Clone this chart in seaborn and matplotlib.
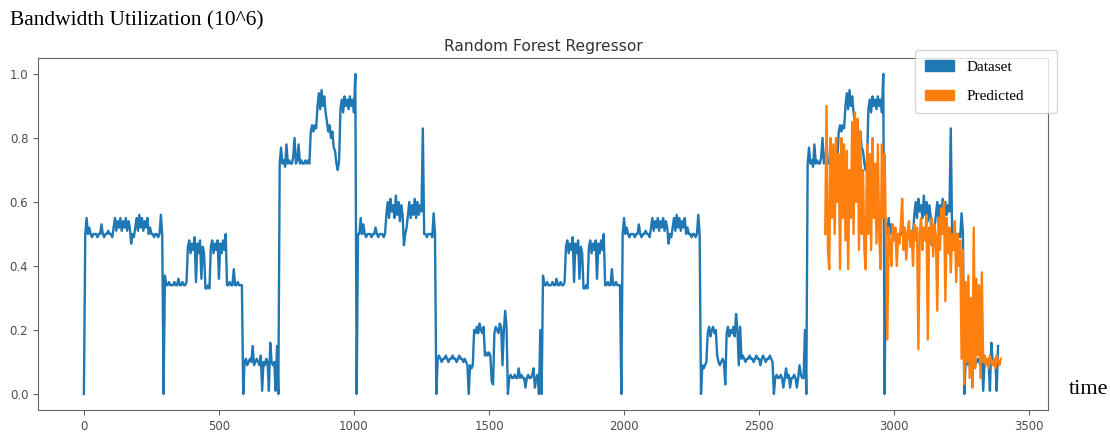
import numpy as np
import pandas as pd
import matplotlib
matplotlib.use("Agg")
import matplotlib.pyplot as plt
import matplotlib.patches as mpatches
import seaborn as sns

# =============================================================================
# DATA (one sample every 5 time units)
# =============================================================================
STEP = 5

# ~0.5 level with two small bumps
seg_a_low = [0.00, 0.50, 0.55, 0.50, 0.52, 0.50, 0.49, 0.50, 0.50, 0.50,
             0.49, 0.50, 0.50, 0.53, 0.50, 0.49, 0.50, 0.50, 0.51, 0.50,
             0.50, 0.49, 0.52, 0.55, 0.51, 0.54, 0.52, 0.55, 0.51, 0.54,
             0.52, 0.55, 0.51, 0.54, 0.52, 0.47, 0.50, 0.49, 0.52, 0.55,
             0.51, 0.56, 0.52, 0.55, 0.51, 0.54, 0.52, 0.55, 0.50, 0.52,
             0.50, 0.50, 0.49, 0.50, 0.50, 0.49, 0.50, 0.56, 0.50]
# ~0.5 level with higher bumps and the 0.83 spike
seg_a_high = [0.00, 0.50, 0.50, 0.55, 0.50, 0.53, 0.50, 0.49, 0.50, 0.50,
              0.50, 0.49, 0.50, 0.50, 0.52, 0.50, 0.49, 0.50, 0.50, 0.50,
              0.49, 0.50, 0.56, 0.60, 0.55, 0.61, 0.57, 0.59, 0.55, 0.62,
              0.56, 0.60, 0.54, 0.59, 0.56, 0.465, 0.50, 0.52, 0.56, 0.60,
              0.55, 0.59, 0.56, 0.61, 0.55, 0.60, 0.56, 0.59, 0.57, 0.83,
              0.50, 0.50, 0.49, 0.50, 0.50, 0.50, 0.49, 0.565, 0.50]
# ~0.34 level with bumps to 0.47
seg_b = [0.00, 0.37, 0.34, 0.34, 0.35, 0.34, 0.34, 0.34, 0.35, 0.34,
         0.34, 0.36, 0.34, 0.34, 0.35, 0.34, 0.34, 0.35, 0.46, 0.48,
         0.44, 0.47, 0.45, 0.49, 0.35, 0.47, 0.44, 0.48, 0.36, 0.46,
         0.44, 0.33, 0.33, 0.34, 0.33, 0.46, 0.48, 0.44, 0.47, 0.45,
         0.48, 0.36, 0.47, 0.44, 0.48, 0.45, 0.50, 0.34, 0.34, 0.35,
         0.34, 0.34, 0.39, 0.34, 0.34, 0.35, 0.34, 0.34, 0.34]
# short ~0.1 level
seg_c_short = [0.00, 0.10, 0.11, 0.09, 0.10, 0.11, 0.10, 0.15, 0.09, 0.10,
               0.11, 0.10, 0.09, 0.12, 0.01, 0.10, 0.09, 0.11, 0.10, 0.01,
               0.16, 0.10, 0.09, 0.10, 0.01, 0.15]
# long low stretches (0.1 / 0.2 / 0.05)
seg_c_long_1 = [0.00, 0.11, 0.12, 0.11, 0.10, 0.11, 0.11, 0.12, 0.11, 0.10,
                0.11, 0.11, 0.12, 0.11, 0.11, 0.10, 0.11, 0.12, 0.11, 0.11,
                0.10, 0.11, 0.10, 0.09, 0.00, 0.09, 0.08, 0.09, 0.20, 0.19,
                0.21, 0.19, 0.22, 0.20, 0.19, 0.21, 0.12, 0.13, 0.12, 0.13,
                0.12, 0.04, 0.03, 0.19, 0.21, 0.20, 0.19, 0.22, 0.21, 0.09,
                0.20, 0.26, 0.21, 0.00, 0.05, 0.06, 0.05, 0.05, 0.06, 0.05,
                0.05, 0.08, 0.05, 0.06, 0.05, 0.05, 0.02, 0.05, 0.06, 0.05,
                0.05, 0.06, 0.08, 0.02, 0.05, 0.06, 0.00, 0.20]
seg_c_long_2 = [0.00, 0.09, 0.08, 0.09, 0.10, 0.19, 0.21, 0.18, 0.20, 0.21,
                0.19, 0.20, 0.12, 0.10, 0.09, 0.10, 0.11, 0.10, 0.03, 0.19,
                0.21, 0.18, 0.20, 0.19, 0.21, 0.18, 0.25, 0.20, 0.09, 0.21,
                0.11, 0.12, 0.11, 0.10, 0.11, 0.11, 0.12, 0.11, 0.11, 0.10,
                0.11, 0.12, 0.11, 0.11, 0.09, 0.11, 0.12, 0.11, 0.10, 0.11,
                0.11, 0.12, 0.11, 0.10, 0.00, 0.05, 0.06, 0.05, 0.05, 0.06,
                0.05, 0.02, 0.05, 0.08, 0.05, 0.06, 0.02, 0.05, 0.05, 0.06,
                0.05, 0.02, 0.05, 0.09, 0.06, 0.05, 0.05, 0.20]
# ~0.72 level climbing to 0.93 / 1.0
seg_d = [0.00, 0.72, 0.77, 0.72, 0.73, 0.71, 0.78, 0.72, 0.73, 0.72,
         0.72, 0.74, 0.80, 0.72, 0.73, 0.78, 0.72, 0.73, 0.72, 0.72,
         0.73, 0.72, 0.73, 0.72, 0.82, 0.84, 0.82, 0.84, 0.83, 0.90,
         0.94, 0.89, 0.95, 0.90, 0.93, 0.88, 0.85, 0.82, 0.84, 0.80,
         0.82, 0.77, 0.76, 0.72, 0.70, 0.73, 0.89, 0.92, 0.88, 0.93,
         0.90, 0.92, 0.89, 0.93, 0.90, 0.92, 0.88, 1.00]

dataset_segments = [seg_a_low, seg_b, seg_c_short, seg_d, seg_a_high, seg_c_long_1,
                    seg_b, seg_a_low, seg_c_long_2, seg_d, seg_a_high, seg_c_short]

# predicted values (start at t=2745)
PRED_START = 2745
pred_high = [0.50, 0.90, 0.45, 0.39, 0.80, 0.55, 0.78, 0.50, 0.80, 0.60,
             0.75, 0.39, 0.80, 0.55, 0.78, 0.48, 0.76, 0.39, 0.70, 0.55,
             0.85, 0.50, 0.88, 0.60, 0.86, 0.45, 0.82, 0.50, 0.70, 0.45,
             0.39, 0.78, 0.50, 0.75, 0.45, 0.80, 0.55, 0.72, 0.47, 0.78,
             0.50, 0.39, 0.78, 0.55, 0.75]
pred_mid = [0.48, 0.17, 0.52, 0.47, 0.40, 0.53, 0.48, 0.52, 0.40, 0.50,
            0.47, 0.53, 0.61, 0.45, 0.52, 0.42, 0.50, 0.54, 0.46, 0.51,
            0.40, 0.53, 0.48, 0.52, 0.14, 0.50, 0.55, 0.45, 0.52, 0.48,
            0.56, 0.17, 0.52, 0.47, 0.55, 0.43, 0.53, 0.49, 0.26, 0.55,
            0.45, 0.58, 0.50, 0.60, 0.29, 0.55, 0.44, 0.52, 0.38, 0.50,
            0.45, 0.54, 0.35, 0.50, 0.40, 0.48, 0.11, 0.45]
pred_low = [0.03, 0.35, 0.10, 0.37, 0.05, 0.30, 0.02, 0.52, 0.08, 0.36,
            0.12, 0.34, 0.05, 0.38, 0.10, 0.12, 0.09, 0.11, 0.08, 0.12,
            0.10, 0.09, 0.11, 0.08, 0.12, 0.10, 0.09, 0.11]

# =============================================================================
# BUILD TABLES
# =============================================================================
bandwidth = np.concatenate(dataset_segments)
df_data = pd.DataFrame({"time": np.arange(len(bandwidth)) * STEP, "value": bandwidth})

predicted = np.concatenate([pred_high, pred_mid, pred_low])
df_pred = pd.DataFrame({"time": PRED_START + np.arange(len(predicted)) * STEP,
                        "value": predicted})

# =============================================================================
# PLOT
# =============================================================================
serif = ["Liberation Serif", "DejaVu Serif"]
blue, orange = "#1f77b4", "#ff7f0e"

fig = plt.figure(figsize=(11.1, 4.32), dpi=100)
ax = fig.add_axes([38 / 1110, 1 - 410 / 432, 1010 / 1110, 352 / 432])

sns.lineplot(data=df_data, x="time", y="value", ax=ax, color=blue,
             estimator=None, sort=False, linewidth=1.7, legend=False)
sns.lineplot(data=df_pred, x="time", y="value", ax=ax, color=orange,
             estimator=None, sort=False, linewidth=1.7, legend=False)

ax.set_xticks([0, 500, 1000, 1500, 2000, 2500, 3000, 3500])
ax.set_yticks([0.0, 0.2, 0.4, 0.6, 0.8, 1.0])
ax.set_xlim(-170, 3570)
ax.set_ylim(-0.05, 1.05)
ax.set_xlabel("")
ax.set_ylabel("")
ax.set_title("Random Forest Regressor", fontsize=11.2, color="0.2", pad=5)
ax.tick_params(labelsize=8.5, labelcolor="0.3", color="0.4")
for sp in ax.spines.values():
    sp.set_color("0.4")

fig.text(10 / 1110, 1 - 21 / 432, "Bandwidth Utilization (10^6)",
         family=serif, fontsize=15.5, va="center", ha="left")
fig.text(1069 / 1110, 1 - 389 / 432, "time", family=serif, fontsize=16,
         va="center", ha="left")

handles = [mpatches.Patch(color=blue, label="Dataset"),
           mpatches.Patch(color=orange, label="Predicted")]
fig.legend(handles=handles, loc="upper left", mode="expand",
           bbox_to_anchor=(915 / 1110, (432 - 111) / 432, 142 / 1110, 61 / 432),
           borderaxespad=0, borderpad=0.65, labelspacing=1.05, handlelength=1.9,
           prop={"family": serif, "size": 11})

fig.savefig("out.png", dpi=100)
